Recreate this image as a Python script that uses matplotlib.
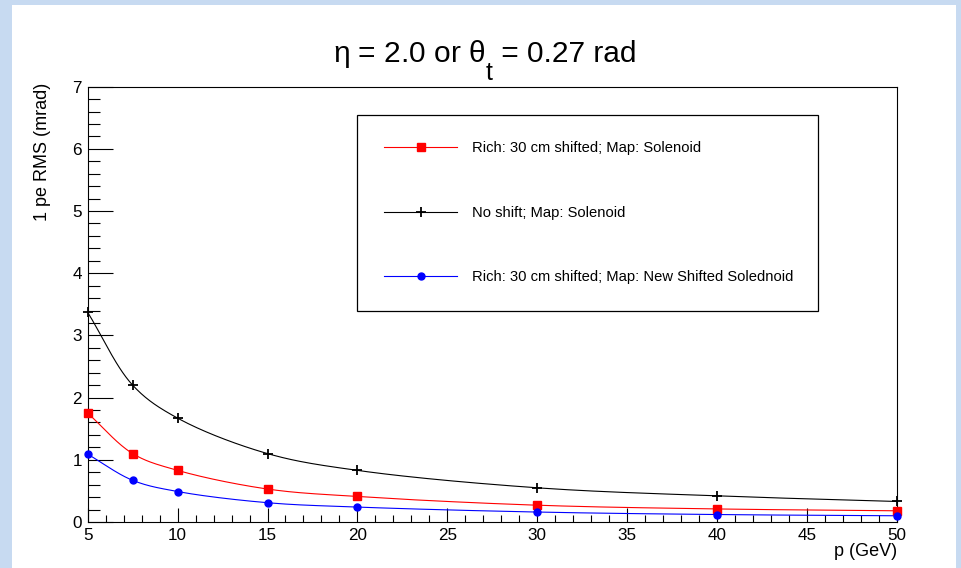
import numpy as np
import matplotlib
matplotlib.use("Agg")
import matplotlib.pyplot as plt
from matplotlib.lines import Line2D
from matplotlib.patches import Rectangle
from matplotlib.ticker import MultipleLocator

plt.rcParams['font.family'] = ['Liberation Sans', 'DejaVu Sans']
plt.rcParams['mathtext.fontset'] = 'custom'
plt.rcParams['mathtext.rm'] = 'Liberation Sans'
plt.rcParams['mathtext.it'] = 'Liberation Sans'

# momentum points (GeV)
p = np.array([5, 7.5, 10, 15, 20, 30, 40, 50])
# 1 pe RMS (mrad)
rms_shift_sol = np.array([1.75, 1.10, 0.83, 0.53, 0.41, 0.27, 0.21, 0.18])
rms_noshift_sol = np.array([3.37, 2.20, 1.67, 1.10, 0.83, 0.55, 0.42, 0.33])
rms_shift_newsol = np.array([1.09, 0.67, 0.49, 0.31, 0.24, 0.16, 0.12, 0.10])

labels = ["Rich: 30 cm shifted; Map: Solenoid",
          "No shift; Map: Solenoid",
          "Rich: 30 cm shifted; Map: New Shifted Solednoid"]


def smooth(xs, ys, sx, sy, n=30):
    # centripetal catmull-rom through the points, like ROOT's "C" option
    P = np.column_stack([xs * sx, ys * sy])
    P = np.vstack([2 * P[0] - P[1], P, 2 * P[-1] - P[-2]])
    out = []
    for i in range(1, len(P) - 2):
        p0, p1, p2, p3 = P[i - 1], P[i], P[i + 1], P[i + 2]
        t0 = 0.0
        t1 = t0 + np.linalg.norm(p1 - p0) ** 0.5
        t2 = t1 + np.linalg.norm(p2 - p1) ** 0.5
        t3 = t2 + np.linalg.norm(p3 - p2) ** 0.5
        t = np.linspace(t1, t2, n)[:, None]
        a1 = (t1 - t) / (t1 - t0) * p0 + (t - t0) / (t1 - t0) * p1
        a2 = (t2 - t) / (t2 - t1) * p1 + (t - t1) / (t2 - t1) * p2
        a3 = (t3 - t) / (t3 - t2) * p2 + (t - t2) / (t3 - t2) * p3
        b1 = (t2 - t) / (t2 - t0) * a1 + (t - t0) / (t2 - t0) * a2
        b2 = (t3 - t) / (t3 - t1) * a2 + (t - t1) / (t3 - t1) * a3
        c = (t2 - t) / (t2 - t1) * b1 + (t - t1) / (t2 - t1) * b2
        out.append(c)
    out = np.vstack(out)
    return out[:, 0] / sx, out[:, 1] / sy


fig = plt.figure(figsize=(9.61, 5.68), dpi=100)
fig.patch.set_facecolor('#c7daf1')
fig.add_artist(Rectangle((12 / 961, 0), 944 / 961, 563 / 568,
                         transform=fig.transFigure, facecolor='white',
                         edgecolor='none', zorder=0))

ax = fig.add_axes([0.0913, 0.0810, 0.8418, 0.7664])
ax.set_xlim(5, 50)
ax.set_ylim(0, 7)

# pixel scale of the axes for the smoothing
sx = 809 / 45.0
sy = 435 / 7.0

series = [
    (rms_shift_sol, 'red', 's', 5.5, {}),
    (rms_noshift_sol, 'black', '+', 7, {'markeredgewidth': 1.3}),
    (rms_shift_newsol, 'blue', 'o', 5, {}),
]
handles = []
for (vals, col, mk, ms, kw), lab in zip(series, labels):
    cx, cy = smooth(p, vals, sx, sy)
    ax.plot(cx, cy, color=col, lw=0.8, zorder=2)
    ax.plot(p, vals, ls='none', marker=mk, color=col, ms=ms,
            clip_on=False, zorder=3, **kw)
    handles.append(Line2D([], [], color=col, lw=0.8, marker=mk, ms=ms, **kw))

leg = ax.legend(handles, labels, loc='upper left',
                bbox_to_anchor=(0.3333, 0.935, 0.569, 0.0), mode='expand',
                fontsize=10.6, frameon=True, fancybox=False, framealpha=1,
                edgecolor='black', borderpad=1.8, labelspacing=3.42,
                handlelength=5.0, handletextpad=1.0,
                numpoints=1, borderaxespad=0)
leg.get_frame().set_linewidth(0.9)

ax.xaxis.set_major_locator(MultipleLocator(5))
ax.xaxis.set_minor_locator(MultipleLocator(1))
ax.yaxis.set_major_locator(MultipleLocator(1))
ax.yaxis.set_minor_locator(MultipleLocator(0.2))
ax.tick_params(axis='x', which='major', direction='in', length=10, width=0.8,
               labelsize=12.3, pad=4.5, top=False)
ax.tick_params(axis='x', which='minor', direction='in', length=5, width=0.8, top=False)
ax.tick_params(axis='y', which='major', direction='in', length=18, width=0.8,
               labelsize=12.3, pad=4.3, right=False)
ax.tick_params(axis='y', which='minor', direction='in', length=8.6, width=0.8, right=False)
for s in ax.spines.values():
    s.set_linewidth(0.8)

ax.set_xlabel('p (GeV)', loc='right', fontsize=13, labelpad=0)
ax.set_ylabel('1 pe RMS (mrad)', loc='top', fontsize=13)
ax.yaxis.set_label_coords(-0.045, 1.01)

# title in three pieces so the subscript t can drop low as in ROOT
ybase = 1 - 62 / 568
tt1 = fig.text(0.3, ybase, r'$\eta$ = 2.0 or $\theta$', ha='left',
               va='baseline', fontsize=21.5)
tt2 = ax.annotate('t', xy=(1, ybase), xycoords=(tt1, 'figure fraction'),
                  xytext=(0.5, -13), textcoords='offset points', ha='left',
                  va='baseline', fontsize=18, annotation_clip=False)
tt3 = ax.annotate(' = 0.27 rad', xy=(1, ybase),
                  xycoords=(tt2, 'figure fraction'), ha='left',
                  va='baseline', fontsize=21.5, annotation_clip=False)
fig.canvas.draw()
x0 = tt1.get_window_extent().x0
x1 = tt3.get_window_extent().x1
shift = 484.5 - (x0 + x1) / 2
tt1.set_x(0.3 + shift / 961)

fig.savefig('out.png', dpi=100, facecolor=fig.get_facecolor())
